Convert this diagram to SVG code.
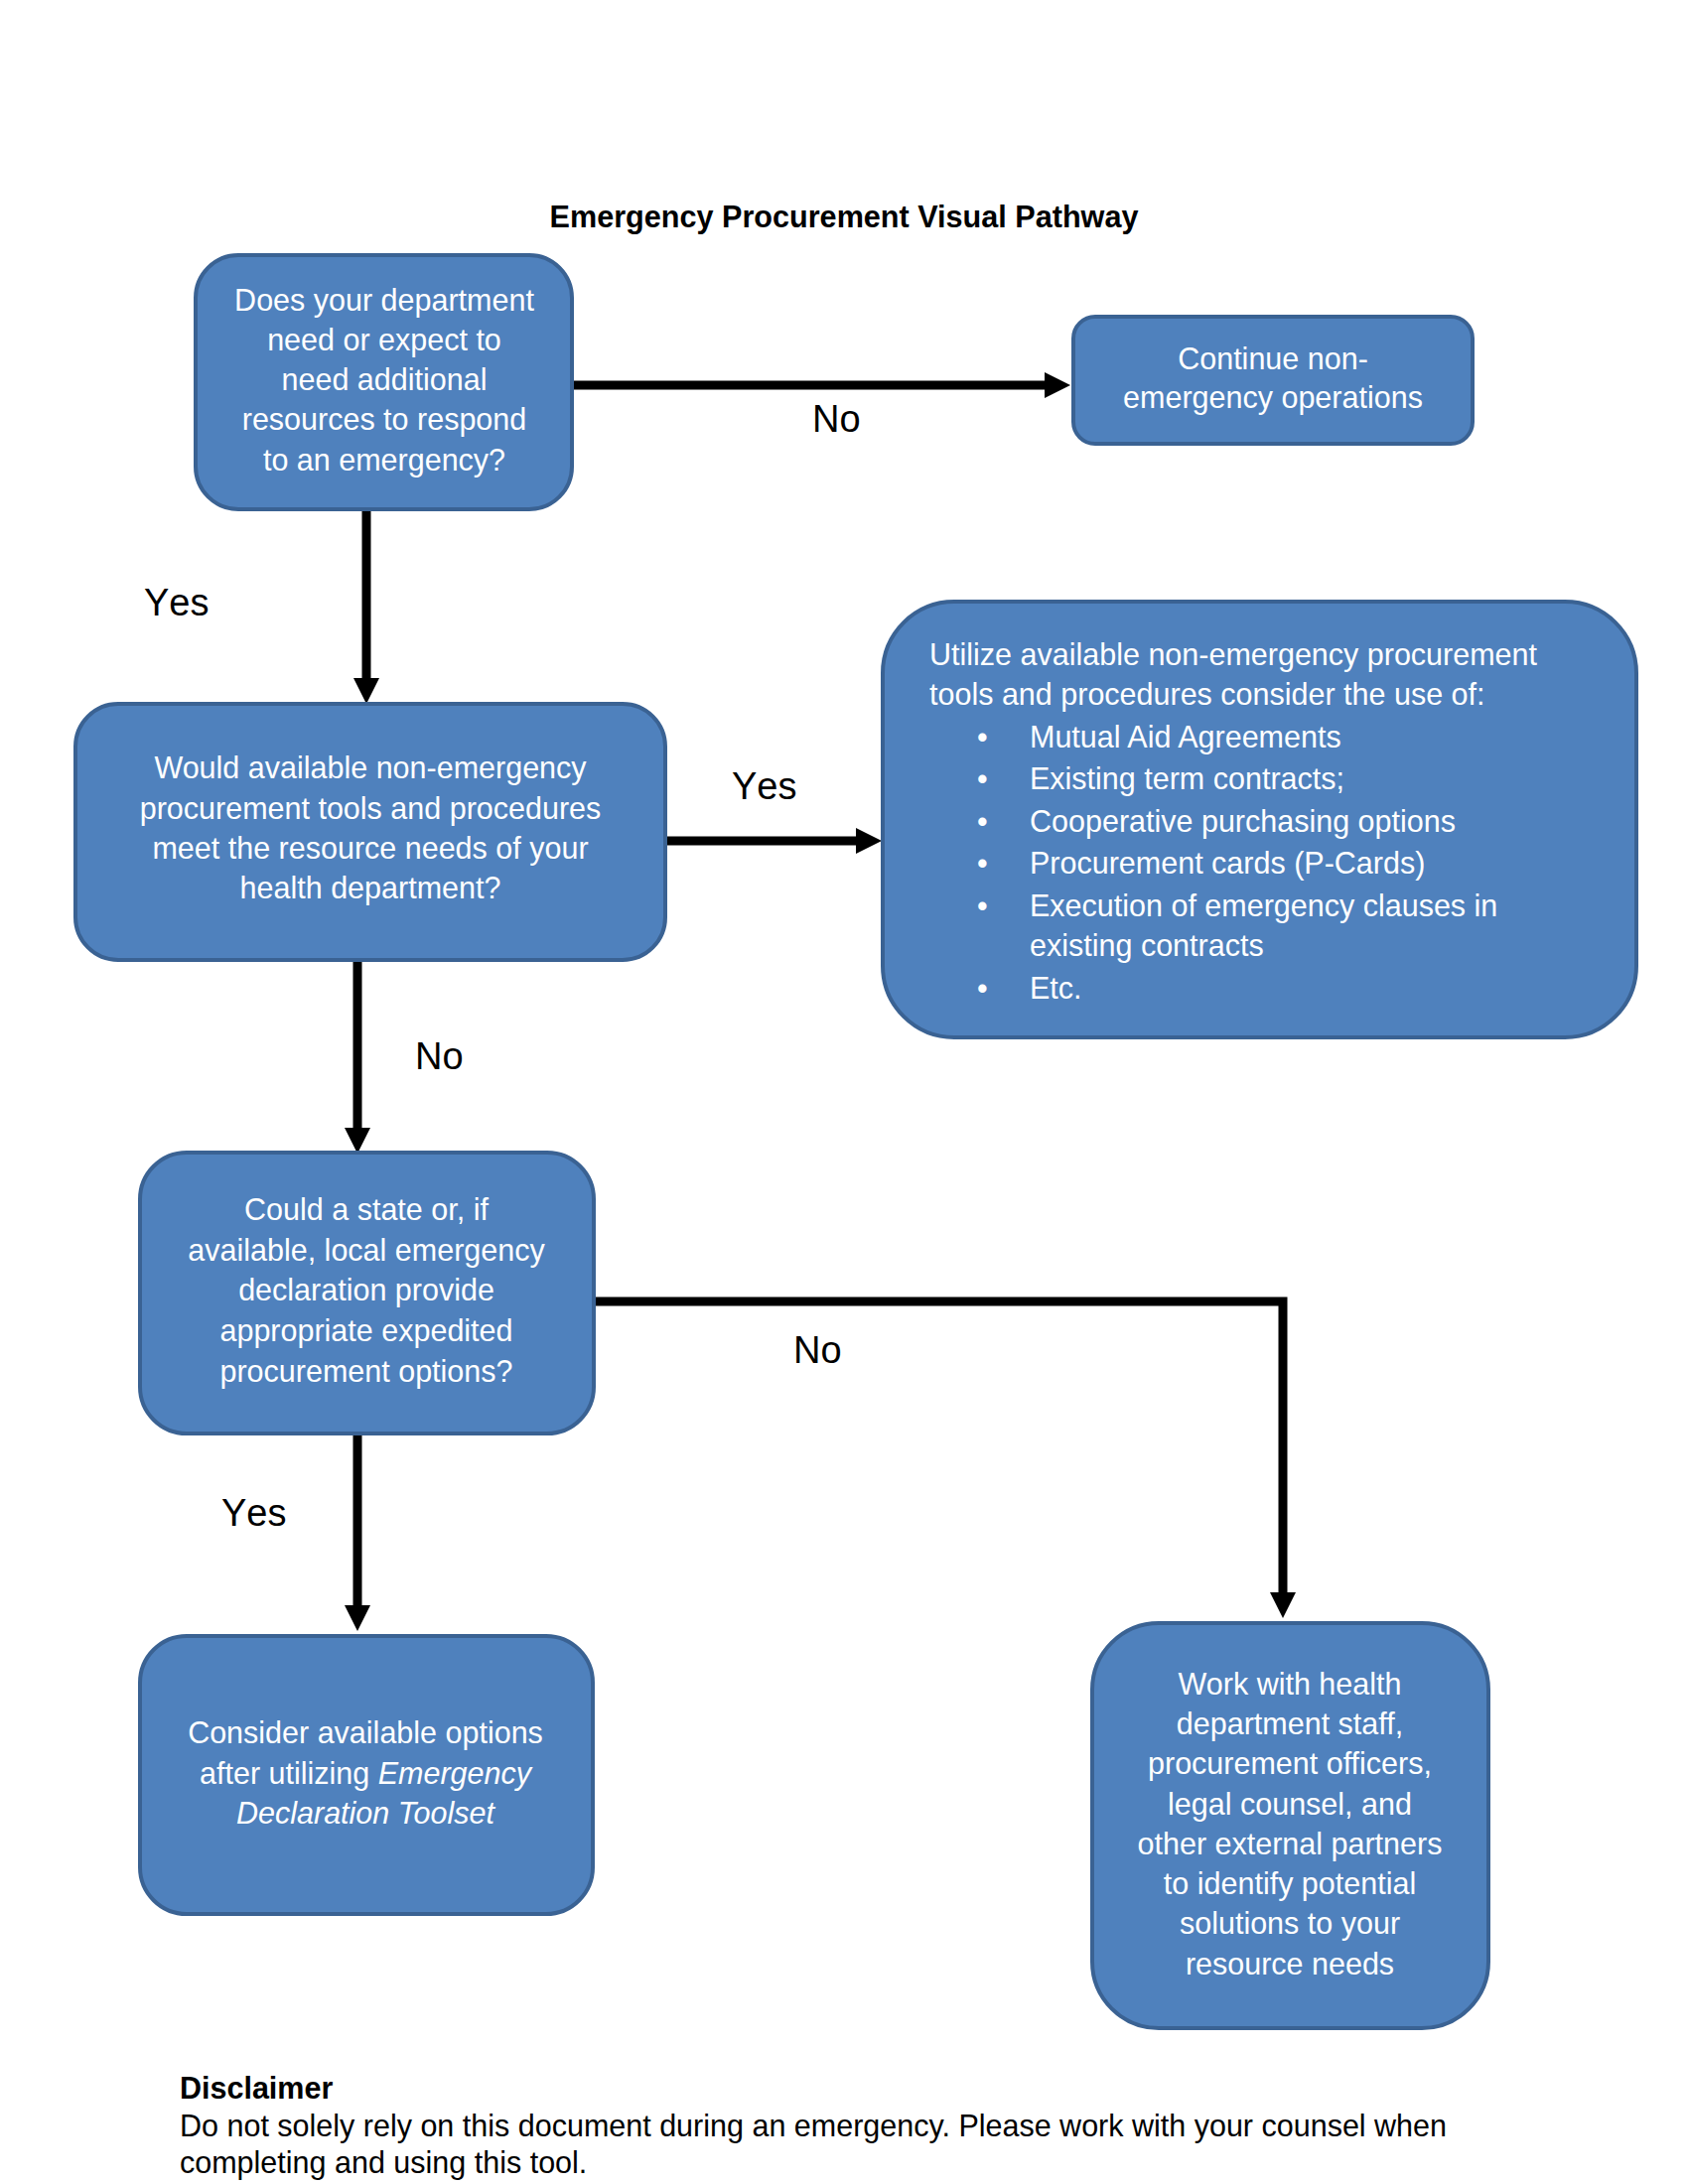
<svg xmlns="http://www.w3.org/2000/svg" width="1700" height="2200" viewBox="0 0 1700 2200">
<defs>
<style>
.box{fill:#4F81BD;stroke:#3A6293;stroke-width:4}
.bt{font-family:"Liberation Sans",Arial,sans-serif;font-size:30.5px;fill:#FFFFFF}
.c{text-anchor:middle}
.lbl{font-family:"Liberation Sans",Arial,sans-serif;font-size:38px;fill:#000000;font-kerning:none}
.conn{fill:none;stroke:#000000;stroke-width:9}
.title{font-family:"Liberation Sans",Arial,sans-serif;font-size:30.6px;font-weight:bold;fill:#000000}
.disc{font-family:"Liberation Sans",Arial,sans-serif;font-size:30.5px;fill:#000000}
</style>
<marker id="ah" markerUnits="userSpaceOnUse" markerWidth="30" markerHeight="30" viewBox="0 0 30 30" refX="0" refY="15" orient="auto">
<path d="M0,2 L26,15 L0,28 Z" fill="#000000"/>
</marker>
</defs>
<rect width="1700" height="2200" fill="#FFFFFF"/>

<text class="title c" x="850" y="229">Emergency Procurement Visual Pathway</text>

<g id="connectors">
<path class="conn" d="M576,388 H1052" marker-end="url(#ah)"/>
<path class="conn" d="M369,513 V683" marker-end="url(#ah)"/>
<path class="conn" d="M670,847 H862" marker-end="url(#ah)"/>
<path class="conn" d="M360,967 V1136" marker-end="url(#ah)"/>
<path class="conn" d="M598,1311 H1292 V1604" marker-end="url(#ah)"/>
<path class="conn" d="M360,1444 V1617" marker-end="url(#ah)"/>
<text class="lbl" x="818" y="435">No</text>
<text class="lbl" x="145" y="620">Yes</text>
<text class="lbl" x="737" y="805">Yes</text>
<text class="lbl" x="418" y="1077">No</text>
<text class="lbl" x="799" y="1373">No</text>
<text class="lbl" x="223" y="1537">Yes</text>
</g>

<g id="q1">
<rect class="box" x="197" y="257" width="379" height="256" rx="43" ry="43"/>
<text class="bt c" x="387" y="313">Does your department</text>
<text class="bt c" x="387" y="353">need or expect to</text>
<text class="bt c" x="387" y="393">need additional</text>
<text class="bt c" x="387" y="433">resources to respond</text>
<text class="bt c" x="387" y="474">to an emergency?</text>
</g>

<g id="continue">
<rect class="box" x="1081" y="319" width="402" height="128" rx="22" ry="22"/>
<text class="bt c" x="1282" y="372">Continue non-</text>
<text class="bt c" x="1282" y="411">emergency operations</text>
</g>

<g id="q2">
<rect class="box" x="76" y="709" width="594" height="258" rx="43" ry="43"/>
<text class="bt c" x="373" y="784">Would available non-emergency</text>
<text class="bt c" x="373" y="825">procurement tools and procedures</text>
<text class="bt c" x="373" y="865">meet the resource needs of your</text>
<text class="bt c" x="373" y="905">health department?</text>
</g>

<g id="utilize">
<rect class="box" x="889" y="606" width="759" height="439" rx="72" ry="72"/>
<text class="bt" x="936" y="670">Utilize available non-emergency procurement</text>
<text class="bt" x="936" y="710">tools and procedures consider the use of:</text>
<text class="bt" x="984" y="753">•</text><text class="bt" x="1037" y="753">Mutual Aid Agreements</text>
<text class="bt" x="984" y="795">•</text><text class="bt" x="1037" y="795">Existing term contracts;</text>
<text class="bt" x="984" y="838">•</text><text class="bt" x="1037" y="838">Cooperative purchasing options</text>
<text class="bt" x="984" y="880">•</text><text class="bt" x="1037" y="880">Procurement cards (P-Cards)</text>
<text class="bt" x="984" y="923">•</text><text class="bt" x="1037" y="923">Execution of emergency clauses in</text>
<text class="bt" x="1037" y="963">existing contracts</text>
<text class="bt" x="984" y="1006">•</text><text class="bt" x="1037" y="1006">Etc.</text>
</g>

<g id="q3">
<rect class="box" x="141" y="1161" width="457" height="283" rx="47" ry="47"/>
<text class="bt c" x="369" y="1229">Could a state or, if</text>
<text class="bt c" x="369" y="1270">available, local emergency</text>
<text class="bt c" x="369" y="1310">declaration provide</text>
<text class="bt c" x="369" y="1351">appropriate expedited</text>
<text class="bt c" x="369" y="1392">procurement options?</text>
</g>

<g id="consider">
<rect class="box" x="141" y="1648" width="456" height="280" rx="47" ry="47"/>
<text class="bt c" x="368" y="1756">Consider available options</text>
<text class="bt c" x="368" y="1797">after utilizing <tspan font-style="italic">Emergency</tspan></text>
<text class="bt c" x="368" y="1837" font-style="italic">Declaration Toolset</text>
</g>

<g id="work">
<rect class="box" x="1100" y="1635" width="399" height="408" rx="67" ry="67"/>
<text class="bt c" x="1299" y="1707">Work with health</text>
<text class="bt c" x="1299" y="1747">department staff,</text>
<text class="bt c" x="1299" y="1787">procurement officers,</text>
<text class="bt c" x="1299" y="1828">legal counsel, and</text>
<text class="bt c" x="1299" y="1868">other external partners</text>
<text class="bt c" x="1299" y="1908">to identify potential</text>
<text class="bt c" x="1299" y="1948">solutions to your</text>
<text class="bt c" x="1299" y="1989">resource needs</text>
</g>

<g id="disclaimer">
<text class="disc" x="181" y="2114" font-weight="bold">Disclaimer</text>
<text class="disc" x="181" y="2152">Do not solely rely on this document during an emergency. Please work with your counsel when</text>
<text class="disc" x="181" y="2189">completing and using this tool.</text>
</g>
</svg>
